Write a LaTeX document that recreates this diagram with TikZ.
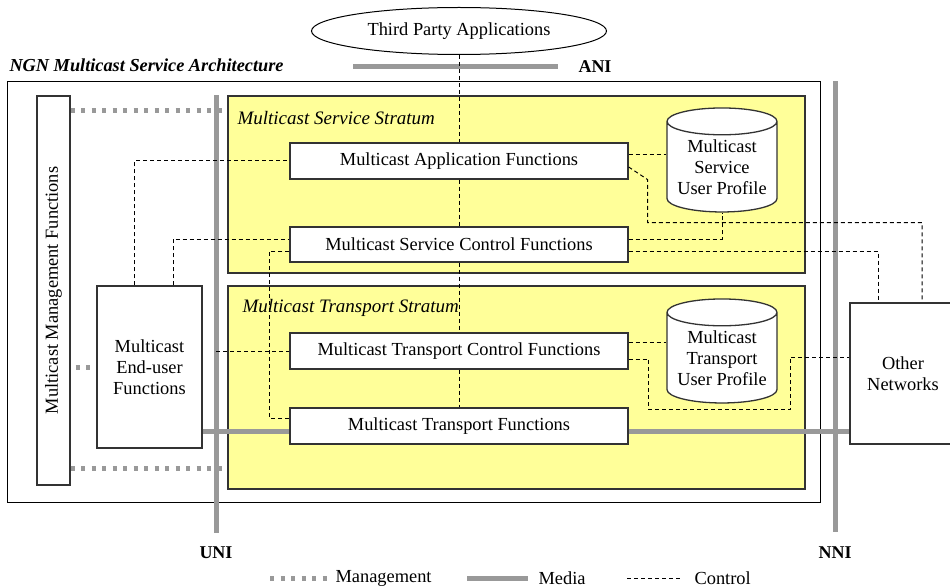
\documentclass[tikz,border=0pt]{standalone}
\usepackage{fontspec}
\setmainfont{Liberation Serif}
\usetikzlibrary{shapes.geometric}
\usetikzlibrary{calc}

\definecolor{stratumyellow}{RGB}{255,255,153}
\definecolor{linegray}{RGB}{153,153,153}
\definecolor{boxline}{RGB}{51,51,51}

\begin{document}
\begin{tikzpicture}[x=1pt,y=-1pt,
  every node/.style={font=\fontsize{18.4}{21}\selectfont},
  fn/.style={draw=boxline,line width=1.3pt,fill=white,inner sep=0pt,align=center},
  db/.style={fn,cylinder,shape border rotate=90,aspect=0.3,minimum width=110,minimum height=104},
  stratum/.style={draw=boxline,line width=1.3pt,fill=stratumyellow,inner sep=0pt},
  stratumlabel/.style={anchor=west,font=\fontsize{19}{21}\selectfont\itshape},
  iface/.style={font=\fontsize{18}{21}\selectfont\bfseries},
  media/.style={draw=linegray,line width=5pt},
  mgmt/.style={draw=linegray,line width=5pt,dash pattern=on 4pt off 6.5pt},
  ctrl/.style={draw=black,line width=1pt,dash pattern=on 4pt off 3pt}]
  \useasboundingbox (0,0) rectangle (950,588);

  % frame and strata
  \node[draw=black,line width=1pt,minimum width=813,minimum height=420] (arch) at (413.5,292) {};
  \node[anchor=west,font=\fontsize{18.3}{21}\selectfont\bfseries\itshape] (title) at (6,65) {NGN Multicast Service Architecture};
  \node[stratum,minimum width=577,minimum height=177] (sss) at (516.5,184.5) {};
  \node[stratum,minimum width=577,minimum height=203] (tss) at (516.5,387.5) {};
  \node[stratumlabel] (ssl) at (234,118) {Multicast Service Stratum};
  \node[stratumlabel] (tsl) at (239,308) {Multicast Transport Stratum};

  % reference points
  \node[iface] (ani) at (595,67) {ANI};
  \node[iface] (uni) at (216,553) {UNI};
  \node[iface] (nni) at (835,553) {NNI};
  \draw[media] ($(ani)+(-242,0)$) -- ($(ani)+(-37,0)$);
  \draw[media] (uni |- sss.north) -- ($(uni)+(0,-20)$);
  \draw[media] (nni |- arch.north) -- ($(nni)+(0,-21)$);

  % functional entities
  \node[fn,ellipse,draw=black,line width=1pt,minimum width=295,minimum height=47] (tpa) at (459,31) {Third Party Applications};
  \node[fn,minimum width=338,minimum height=36] (maf) at (459,161) {Multicast Application Functions};
  \node[fn,minimum width=338,minimum height=35] (msc) at (459,244.5) {Multicast Service Control Functions};
  \node[fn,minimum width=338,minimum height=36] (mtc) at (459,351) {Multicast Transport Control Functions};
  \node[fn,minimum width=338,minimum height=36] (mtf) at (459,426) {Multicast Transport Functions};
  \node[db] (msup) at (722,167) {Multicast\\Service\\User Profile};
  \node[db] (mtup) at (722,358) {Multicast\\Transport\\User Profile};
  \node[fn,minimum width=105,minimum height=162] (meu) at (149.5,367) {Multicast\\End-user\\Functions};
  \node[fn,rotate=90,minimum width=389,minimum height=33] (mmf) at (53.5,290.5) {Multicast Management Functions};
  \node[fn,minimum width=106,minimum height=141] (oth) at (903,373.5) {Other\\Networks};

  % management
  \draw[mgmt] ($(mmf.south)+(0,-179.5)$) coordinate (mt) -- (mt -| sss.west);
  \draw[mgmt] ($(mmf.south)+(0,177.5)$) coordinate (mb) -- (mb -| tss.west);
  \draw[mgmt,dash phase=5.5pt] (mmf.south |- meu.west) -- (meu.west);

  % media
  \coordinate (mw) at ($(mtf.west)+(0,5)$);
  \draw[media] (meu.east |- mw) -- (mw);
  \draw[media] ($(mtf.east)+(0,5)$) coordinate (me) -- (me -| oth.west);

  % control
  \draw[ctrl] (tpa.south) -- (maf.north);
  \draw[ctrl] (maf.south) -- (msc.north);
  \draw[ctrl] (msc.south) -- (mtc.north);
  \draw[ctrl] (mtc.south) -- (mtf.north);
  \draw[ctrl] ($(meu.north)+(-15,0)$) |- (maf.west);
  \draw[ctrl] ($(meu.north)+(23.5,0)$) |- ($(msc.west)+(0,-5.5)$);
  \draw[ctrl] ($(msc.west)+(0,6.5)$) -| ($(mtf.west)+(-20,-8)$) -- ($(mtf.west)+(0,-8)$);
  \draw[ctrl] (uni |- mtc.west) -- (mtc.west);
  \draw[ctrl] ($(maf.east)+(0,-6)$) coordinate (c1) -- (c1 -| msup.west);
  \draw[ctrl] ($(maf.east)+(0,6)$) -- ($(maf.south east)+(19,0)$) -- ($(maf.south east)+(19,43)$) -| ($(oth.north)+(19,0)$);
  \draw[ctrl] ($(msc.east)+(0,-5.5)$) -| (msup.south);
  \draw[ctrl] ($(msc.east)+(0,6.5)$) -| ($(oth.north)+(-25,0)$);
  \draw[ctrl] ($(mtc.east)+(0,-9)$) coordinate (c2) -- (c2 -| mtup.west);
  \draw[ctrl] ($(mtc.east)+(0,8)$) -- ++(20,0) |- ($(mtup.south)+(68,6)$) |- ($(oth.west)+(0,-16.5)$);

  % legend
  \node[anchor=west] (lmg) at (332,578) {Management};
  \node[anchor=west] (lmd) at (535,578) {Media};
  \node[anchor=west] (lct) at (691,578) {Control};
  \draw[mgmt] ($(lmg.west)+(-62,0)$) -- ($(lmg.west)+(-5,0)$);
  \draw[media] ($(lmd.west)+(-68,0)$) -- ($(lmd.west)+(-7,0)$);
  \draw[ctrl] ($(lct.west)+(-64,0)$) -- ($(lct.west)+(-10,0)$);
\end{tikzpicture}
\end{document}
